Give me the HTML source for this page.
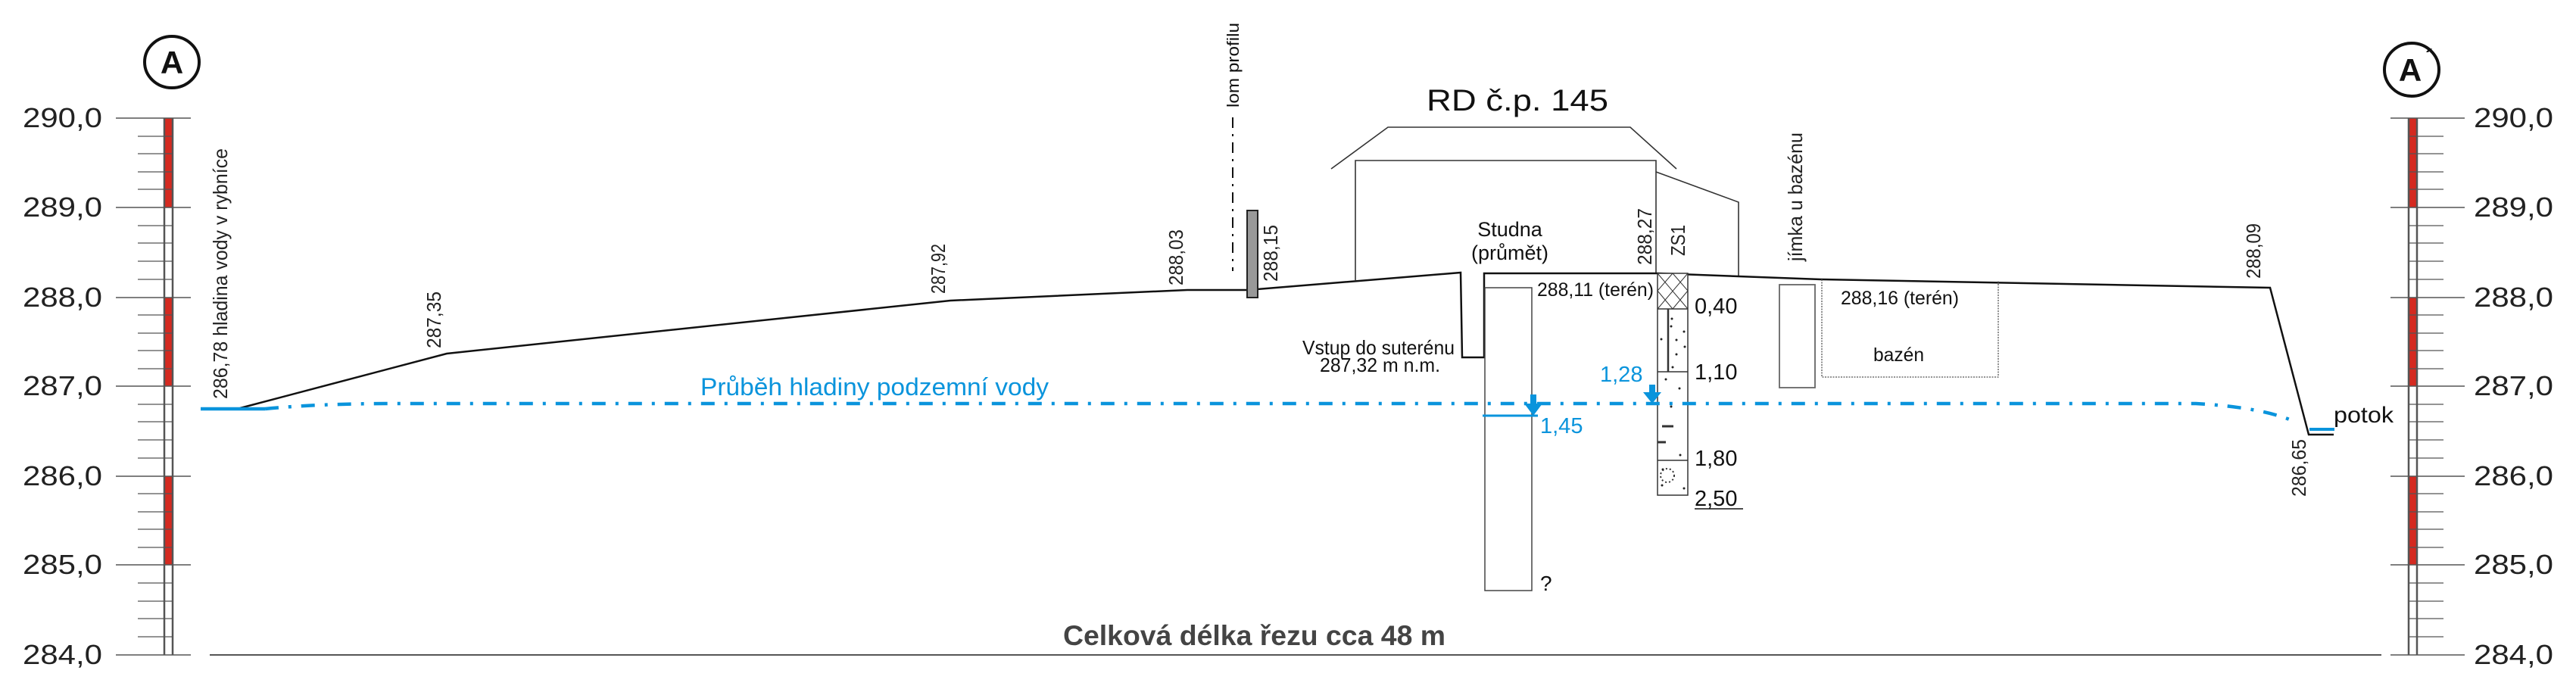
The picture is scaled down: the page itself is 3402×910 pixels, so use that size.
<!DOCTYPE html>
<html><head><meta charset="utf-8"><style>html,body{margin:0;padding:0;background:#fff}svg{display:block}</style></head>
<body>
<svg width="3402" height="910" viewBox="0 0 3402 910" xmlns="http://www.w3.org/2000/svg" font-family="Liberation Sans, sans-serif">
<rect width="3402" height="910" fill="#fff"/>
<!-- LEFT SCALE -->
<g>
<rect x="217" y="156" width="11" height="118" fill="#d42a20"/>
<rect x="217" y="393" width="11" height="117" fill="#d42a20"/>
<rect x="217" y="629" width="11" height="117" fill="#d42a20"/>
<line x1="217" y1="156" x2="217" y2="865" stroke="#555" stroke-width="2.5"/>
<line x1="228" y1="156" x2="228" y2="865" stroke="#555" stroke-width="2.5"/>
<g stroke="#555" stroke-width="1.5">
<line x1="153" y1="156" x2="252" y2="156"/><line x1="153" y1="274" x2="252" y2="274"/><line x1="153" y1="393" x2="252" y2="393"/><line x1="153" y1="510" x2="252" y2="510"/><line x1="153" y1="629" x2="252" y2="629"/><line x1="153" y1="746" x2="252" y2="746"/><line x1="153" y1="865" x2="252" y2="865"/>
</g>
<g stroke="#555" stroke-width="1.2" id="minorL">
<line x1="182" y1="180" x2="228" y2="180"/><line x1="182" y1="203" x2="228" y2="203"/><line x1="182" y1="227" x2="228" y2="227"/><line x1="182" y1="250" x2="228" y2="250"/>
<line x1="182" y1="298" x2="228" y2="298"/><line x1="182" y1="321" x2="228" y2="321"/><line x1="182" y1="345" x2="228" y2="345"/><line x1="182" y1="369" x2="228" y2="369"/>
<line x1="182" y1="416" x2="228" y2="416"/><line x1="182" y1="440" x2="228" y2="440"/><line x1="182" y1="463" x2="228" y2="463"/><line x1="182" y1="487" x2="228" y2="487"/>
<line x1="182" y1="534" x2="228" y2="534"/><line x1="182" y1="557" x2="228" y2="557"/><line x1="182" y1="581" x2="228" y2="581"/><line x1="182" y1="605" x2="228" y2="605"/>
<line x1="182" y1="652" x2="228" y2="652"/><line x1="182" y1="676" x2="228" y2="676"/><line x1="182" y1="699" x2="228" y2="699"/><line x1="182" y1="723" x2="228" y2="723"/>
<line x1="182" y1="770" x2="228" y2="770"/><line x1="182" y1="794" x2="228" y2="794"/><line x1="182" y1="817" x2="228" y2="817"/><line x1="182" y1="841" x2="228" y2="841"/>
</g>
<g font-size="36" fill="#222">
<text x="30" y="168" textLength="105" lengthAdjust="spacingAndGlyphs">290,0</text>
<text x="30" y="286" textLength="105" lengthAdjust="spacingAndGlyphs">289,0</text>
<text x="30" y="405" textLength="105" lengthAdjust="spacingAndGlyphs">288,0</text>
<text x="30" y="522" textLength="105" lengthAdjust="spacingAndGlyphs">287,0</text>
<text x="30" y="641" textLength="105" lengthAdjust="spacingAndGlyphs">286,0</text>
<text x="30" y="758" textLength="105" lengthAdjust="spacingAndGlyphs">285,0</text>
<text x="30" y="877" textLength="105" lengthAdjust="spacingAndGlyphs">284,0</text>
</g>
<ellipse cx="227" cy="82" rx="36" ry="34" fill="none" stroke="#111" stroke-width="4"/>
<text x="227" y="97" font-size="42" font-weight="bold" text-anchor="middle" fill="#111">A</text>
</g>
<!-- RIGHT SCALE -->
<g>
<rect x="3181" y="156" width="11" height="118" fill="#d42a20"/>
<rect x="3181" y="393" width="11" height="117" fill="#d42a20"/>
<rect x="3181" y="629" width="11" height="117" fill="#d42a20"/>
<line x1="3181" y1="156" x2="3181" y2="865" stroke="#555" stroke-width="2.5"/>
<line x1="3192" y1="156" x2="3192" y2="865" stroke="#555" stroke-width="2.5"/>
<g stroke="#555" stroke-width="1.5">
<line x1="3157" y1="156" x2="3255" y2="156"/><line x1="3157" y1="274" x2="3255" y2="274"/><line x1="3157" y1="393" x2="3255" y2="393"/><line x1="3157" y1="510" x2="3255" y2="510"/><line x1="3157" y1="629" x2="3255" y2="629"/><line x1="3157" y1="746" x2="3255" y2="746"/><line x1="3157" y1="865" x2="3255" y2="865"/>
</g>
<use href="#minorL" transform="translate(3409,0) scale(-1,1)"/>
<g font-size="36" fill="#222">
<text x="3267" y="168" textLength="105" lengthAdjust="spacingAndGlyphs">290,0</text>
<text x="3267" y="286" textLength="105" lengthAdjust="spacingAndGlyphs">289,0</text>
<text x="3267" y="405" textLength="105" lengthAdjust="spacingAndGlyphs">288,0</text>
<text x="3267" y="522" textLength="105" lengthAdjust="spacingAndGlyphs">287,0</text>
<text x="3267" y="641" textLength="105" lengthAdjust="spacingAndGlyphs">286,0</text>
<text x="3267" y="758" textLength="105" lengthAdjust="spacingAndGlyphs">285,0</text>
<text x="3267" y="877" textLength="105" lengthAdjust="spacingAndGlyphs">284,0</text>
</g>
<ellipse cx="3185" cy="92" rx="36" ry="35" fill="none" stroke="#111" stroke-width="4"/>
<text x="3183" y="107" font-size="42" font-weight="bold" text-anchor="middle" fill="#111">A</text>
<text x="3203" y="86" font-size="30" font-weight="bold" fill="#111">´</text>
</g>
<!-- baseline -->
<line x1="277" y1="865" x2="3145" y2="865" stroke="#555" stroke-width="2"/>
<text x="1404" y="852" font-size="37" font-weight="bold" fill="#444" textLength="505" lengthAdjust="spacingAndGlyphs">Celková délka řezu cca 48 m</text>
<!-- House -->
<g fill="none" stroke="#333" stroke-width="1.6">
<polyline points="1758,223 1833,168 2153,168 2214,223"/>
<polyline points="1790,370 1790,212 2187,212 2187,362"/>
<polyline points="2187,227 2296,267 2296,365"/>
</g>
<text x="1884" y="146" font-size="40" fill="#111" textLength="240" lengthAdjust="spacingAndGlyphs">RD č.p. 145</text>
<text x="1994" y="312" font-size="27" fill="#111" text-anchor="middle">Studna</text>
<text x="1994" y="343" font-size="27" fill="#111" text-anchor="middle">(průmět)</text>
<!-- Ground -->
<polyline fill="none" stroke="#111" stroke-width="2.5" points="317,539 590,467 1255,397 1568,383 1648,383 1929,360 1931,472 1960,472 1960,361 2190,361 2296,365 2405,369 2998,380 3049,574 3082,574"/>
<!-- lom profilu -->
<line x1="1628" y1="155" x2="1628" y2="358" stroke="#111" stroke-width="2" stroke-dasharray="14,8,3,8"/>
<text transform="translate(1636,142) rotate(-90)" font-size="22" fill="#111" textLength="112" lengthAdjust="spacingAndGlyphs">lom profilu</text>
<rect x="1647" y="278" width="14" height="115" fill="#999" stroke="#222" stroke-width="2"/>
<!-- vertical elevation labels -->
<g font-size="26" fill="#222">
<text transform="translate(300,527) rotate(-90)" textLength="331" lengthAdjust="spacingAndGlyphs">286,78 hladina vody v rybníce</text>
<text transform="translate(582,460) rotate(-90)" textLength="75" lengthAdjust="spacingAndGlyphs">287,35</text>
<text transform="translate(1248,388) rotate(-90)" textLength="66" lengthAdjust="spacingAndGlyphs">287,92</text>
<text transform="translate(1562,377) rotate(-90)" textLength="74" lengthAdjust="spacingAndGlyphs">288,03</text>
<text transform="translate(1687,372) rotate(-90)" textLength="75" lengthAdjust="spacingAndGlyphs">288,15</text>
<text transform="translate(2181,350) rotate(-90)" textLength="75" lengthAdjust="spacingAndGlyphs">288,27</text>
<text transform="translate(2225,338) rotate(-90)" textLength="41" lengthAdjust="spacingAndGlyphs">ZS1</text>
<text transform="translate(2380,345) rotate(-90)" textLength="170" lengthAdjust="spacingAndGlyphs">jímka u bazénu</text>
<text transform="translate(2985,368) rotate(-90)" textLength="73" lengthAdjust="spacingAndGlyphs">288,09</text>
<text transform="translate(3045,656) rotate(-90)" textLength="76" lengthAdjust="spacingAndGlyphs">286,65</text>
</g>
<!-- Well -->
<rect x="1961" y="380" width="62" height="400" fill="none" stroke="#444" stroke-width="1.5"/>
<text x="2034" y="780" font-size="28" fill="#111">?</text>
<text x="2030" y="391" font-size="25" fill="#111" textLength="154" lengthAdjust="spacingAndGlyphs">288,11 (terén)</text>
<text x="1720" y="468" font-size="26" fill="#111" textLength="201" lengthAdjust="spacingAndGlyphs">Vstup do suterénu</text>
<text x="1743" y="491" font-size="26" fill="#111" textLength="159" lengthAdjust="spacingAndGlyphs">287,32 m n.m.</text>
<!-- ZS1 column -->
<g stroke="#333" stroke-width="1.5" fill="none">
<rect x="2189" y="361" width="40" height="293" fill="#fff"/>
<line x1="2189" y1="408" x2="2229" y2="408"/>
<line x1="2189" y1="491" x2="2229" y2="491"/>
<line x1="2189" y1="608" x2="2229" y2="608"/>
<path d="M2189,361 L2229,408 M2229,361 L2189,408 M2189,384 L2209,361 M2209,408 L2229,384 M2209,361 L2229,384 M2189,384 L2209,408" stroke-width="1"/>
<line x1="2203" y1="408" x2="2203" y2="491" stroke-width="2.5"/>
<line x1="2195" y1="563" x2="2210" y2="563" stroke-width="3"/>
<line x1="2189" y1="584" x2="2200" y2="584" stroke-width="3"/>
<circle cx="2202" cy="628" r="9" stroke-dasharray="2,3" stroke-width="2"/>
</g>
<g fill="#222">
<circle cx="2208" cy="421" r="1.5"/><circle cx="2207" cy="431" r="1.5"/><circle cx="2194" cy="448" r="1.5"/><circle cx="2214" cy="449" r="1.5"/><circle cx="2224" cy="438" r="1.5"/><circle cx="2225" cy="458" r="1.5"/><circle cx="2214" cy="468" r="1.5"/><circle cx="2209" cy="485" r="1.5"/><circle cx="2200" cy="501" r="1.5"/><circle cx="2218" cy="513" r="1.5"/><circle cx="2207" cy="537" r="1.5"/><circle cx="2219" cy="601" r="1.5"/><circle cx="2195" cy="641" r="1.5"/><circle cx="2224" cy="645" r="1.5"/><circle cx="2196" cy="620" r="1.5"/>
</g>
<g font-size="29" fill="#111">
<text x="2238" y="414">0,40</text>
<text x="2238" y="501">1,10</text>
<text x="2238" y="615">1,80</text>
<text x="2238" y="668">2,50</text>
</g>
<line x1="2238" y1="672" x2="2302" y2="672" stroke="#111" stroke-width="1.5"/>
<!-- jimka & bazen -->
<rect x="2350" y="376" width="47" height="136" fill="none" stroke="#666" stroke-width="1.8"/>
<polyline points="2406,369 2406,498 2639,498 2639,371" fill="none" stroke="#555" stroke-width="1.3" stroke-dasharray="2,1.5"/>
<text x="2431" y="402" font-size="25" fill="#111" textLength="156" lengthAdjust="spacingAndGlyphs">288,16 (terén)</text>
<text x="2474" y="477" font-size="25" fill="#111" textLength="67" lengthAdjust="spacingAndGlyphs">bazén</text>
<!-- Water -->
<g stroke="#0a94dc" fill="none">
<line x1="265" y1="540" x2="350" y2="540" stroke-width="4.5"/>
<path d="M350,540 Q420,533 520,533 L2900,533 Q2990,538 3033,558" stroke-width="4.5" stroke-dasharray="18,13,4,13"/>
<line x1="3050" y1="567" x2="3083" y2="567" stroke-width="4"/>
<line x1="1958" y1="549" x2="2031" y2="549" stroke-width="3"/>
</g>
<g fill="#0a94dc">
<rect x="2021" y="521" width="8" height="14"/><polygon points="2013,533 2037,533 2025,549"/>
<rect x="2178" y="508" width="8" height="12"/><polygon points="2170,518 2194,518 2182,533"/>
</g>
<text x="925" y="522" font-size="32" fill="#0a94dc" textLength="460" lengthAdjust="spacingAndGlyphs">Průběh hladiny podzemní vody</text>
<text x="2113" y="504" font-size="29" fill="#0a94dc">1,28</text>
<text x="2034" y="572" font-size="29" fill="#0a94dc">1,45</text>
<text x="3082" y="558" font-size="30" fill="#111" textLength="79" lengthAdjust="spacingAndGlyphs">potok</text>
</svg>
</body></html>
